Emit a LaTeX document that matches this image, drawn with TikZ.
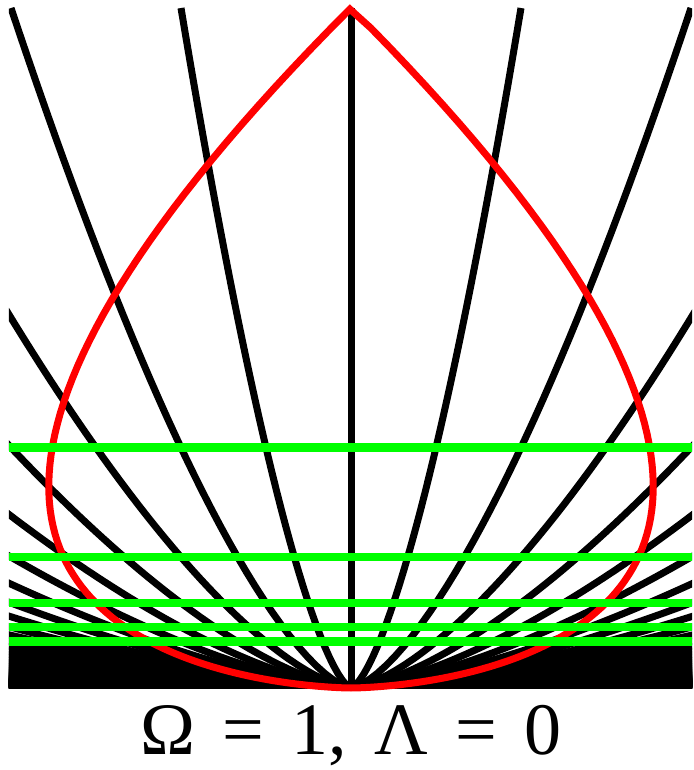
\documentclass[tikz,border=0pt]{standalone}
\usepackage{fontspec}
\setmainfont{Liberation Serif}
\usepackage{xcolor}
\usepackage{tikz}
\definecolor{conered}{HTML}{FF0000}
\definecolor{slicegreen}{HTML}{00FF00}
\newcommand{\eqgap}{\hspace{0.12em}}

\begin{document}
\begin{tikzpicture}[
    x=1pt, y=1pt,
    world/.style={line width=7pt, draw=black},
    lightcone/.style={line width=7pt, draw=conered},
    slice/.style={line width=8.5pt, draw=slicegreen},
    omegatag/.style={font=\fontsize{74}{78}\selectfont, anchor=base, inner sep=0pt}
]
    \useasboundingbox (-351,-82) rectangle (342,688);

    % comoving worldlines, r = chi * t^(2/3)
    \begin{scope}
        \clip (-342,0) rectangle (341,680);
        \draw[world] (0,0) -- (0,680);
        \foreach \k in {1,...,80} {
            \draw[world, samples=40, domain=0:{min(345,170*\k)}]
                plot (\x, {680*(\x/(170*\k))*sqrt(\x/(170*\k))});
            \draw[world, samples=40, domain=0:{min(345,170*\k)}]
                plot (-\x, {680*(\x/(170*\k))*sqrt(\x/(170*\k))});
        }
    \end{scope}

    % past light cone
    \draw[lightcone, samples=101, domain=0:1]
        plot ({-2040*(\x*\x-\x*\x*\x)}, {680*\x*\x*\x})
        -- plot[samples=100, domain=0.99:0] ({2040*(\x*\x-\x*\x*\x)}, {680*\x*\x*\x});

    % slices at z = 1..5
    \foreach \z in {1,...,5}
        \draw[slice] (-342,{680/((1+\z)*sqrt(1+\z))}) -- (341,{680/((1+\z)*sqrt(1+\z))});

    \node[omegatag] (omega) at (0,-66) {Ω\eqgap{} =\eqgap{} 1,\eqgap{} Λ\eqgap{} =\eqgap{} 0};
\end{tikzpicture}
\end{document}
